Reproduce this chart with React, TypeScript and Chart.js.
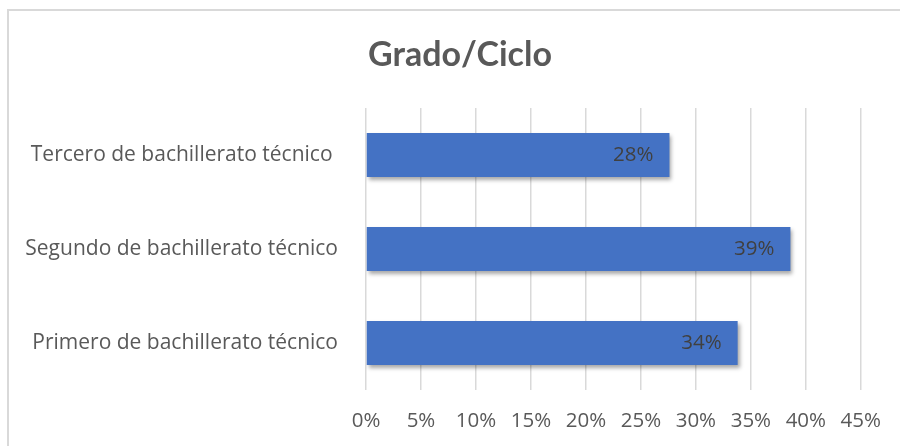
import React, { useEffect, useRef } from "react";
import { Chart, registerables } from "chart.js";

Chart.register(...registerables);

const categories = [
  "Tercero de bachillerato técnico ",
  "Segundo de bachillerato técnico",
  "Primero de bachillerato técnico",
];
const values = [27.6, 38.6, 33.8];
const valueLabels = ["28%", "39%", "34%"];
const tickMax = 45;
const tickStep = 5;
const title = "Grado/Ciclo";

const FONT = "'Open Sans', sans-serif";
const TITLE_FONT = "Lato, sans-serif";

const barLabelPlugin = {
  id: "barLabels",
  beforeDatasetsDraw(chart: any) {
    const ctx = chart.ctx;
    ctx.save();
    ctx.shadowColor = "rgba(0,0,0,0.35)";
    ctx.shadowBlur = 4;
    ctx.shadowOffsetX = 2;
    ctx.shadowOffsetY = 3;
  },
  afterDatasetsDraw(chart: any) {
    const ctx = chart.ctx;
    ctx.restore();
    const meta = chart.getDatasetMeta(0);
    ctx.save();
    ctx.font = `20.5px ${FONT}`;
    ctx.fillStyle = "#404040";
    ctx.textAlign = "right";
    ctx.textBaseline = "middle";
    meta.data.forEach((bar: any, i: number) => {
      ctx.fillText(valueLabels[i], bar.x - 16, bar.y);
    });
    ctx.restore();
  },
  afterDraw(chart: any) {
    const ctx = chart.ctx;
    ctx.save();
    ctx.font = `bold 34px ${TITLE_FONT}`;
    ctx.fillStyle = "#595959";
    ctx.textAlign = "center";
    ctx.textBaseline = "middle";
    ctx.fillText(title, 460, 55);
    ctx.restore();
  },
};

export default function App() {
  const ref = useRef<HTMLCanvasElement>(null);
  useEffect(() => {
    if (!ref.current) return;
    const chart = new Chart(ref.current, {
      type: "bar",
      data: {
        labels: categories,
        datasets: [
          {
            data: values,
            backgroundColor: "#4472C4",
            categoryPercentage: 1,
            barPercentage: 0.47,
          },
        ],
      },
      options: {
        indexAxis: "y",
        animation: false,
        responsive: false,
        layout: { padding: { left: 0, right: 0, top: 108, bottom: 0 } },
        plugins: {
          legend: { display: false },
          tooltip: { enabled: false },
          title: { display: false },
        },
        scales: {
          x: {
            min: 0,
            max: tickMax,
            ticks: {
              stepSize: tickStep,
              color: "#595959",
              font: { family: FONT, size: 20.5 },
              padding: 19,
              callback: (v: any) => v + "%",
            },
            grid: { color: "#d9d9d9", lineWidth: 1.5, drawTicks: false },
            border: { display: false },
            afterFit: (s: any) => {
              s.height = 56;
            },
          },
          y: {
            ticks: {
              color: "#595959",
              font: { family: FONT, size: 21 },
              padding: 20,
            },
            grid: { display: false },
            border: { display: false },
            afterFit: (s: any) => {
              s.width = 366;
            },
          },
        },
      },
      plugins: [barLabelPlugin],
    });
    return () => chart.destroy();
  }, []);
  return (
    <div style={{ position: "fixed", left: 0, top: 0, width: 900, height: 446, background: "#fff", overflow: "hidden" }}>
      <div
        style={{
          position: "absolute",
          left: 7,
          top: 9,
          width: 1000,
          height: 1000,
          borderTop: "2px solid #d9d9d9",
          borderLeft: "2px solid #d9d9d9",
        }}
      />
      <canvas ref={ref} width={900} height={446} style={{ position: "absolute", left: 0, top: 0 }} />
    </div>
  );
}
